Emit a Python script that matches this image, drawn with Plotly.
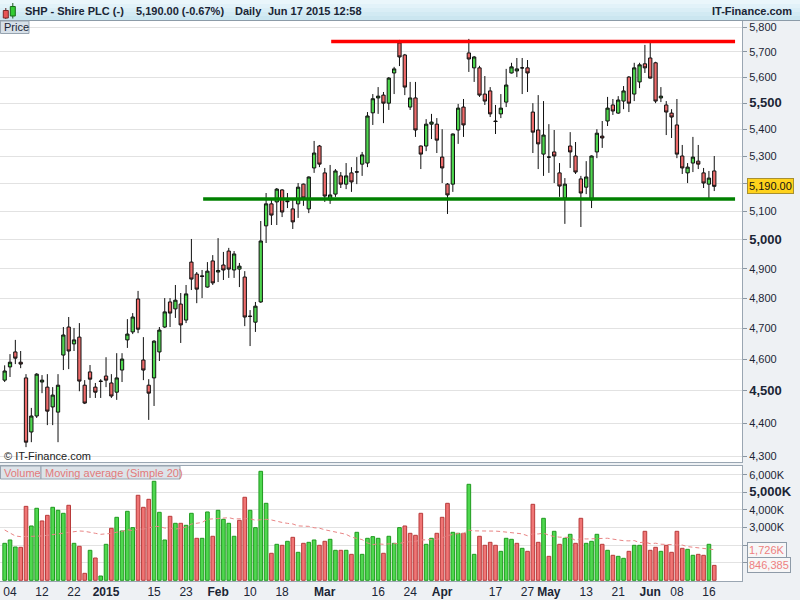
import math
import pandas as pd
import plotly.graph_objects as go

# ---------------- data ----------------
holidays = ["2014-12-25", "2014-12-26", "2015-01-01", "2015-04-03",
            "2015-04-06", "2015-05-04", "2015-05-25"]
dates = [d for d in pd.bdate_range("2014-12-03", "2015-06-17")
         if d.strftime("%Y-%m-%d") not in holidays]

opens = [4534, 4576, 4624, 4591, 4541, 4373, 4422, 4528, 4512, 4450,
         4434, 4614, 4705, 4650, 4672, 4518, 4560, 4512, 4531, 4547,
         4525, 4496, 4566, 4663, 4689, 4798, 4598, 4518, 4541, 4624,
         4705, 4788, 4765, 4781, 4728, 4923, 4882, 4876, 4838, 4927,
         4889, 4913, 4961, 4896, 4899, 4872, 4741, 4721, 4788, 5049,
         5127, 5134, 5177, 5138, 5109, 5127, 5198, 5109, 5257, 5338,
         5239, 5141, 5162, 5228, 5198, 5239, 5243, 5271, 5275, 5463,
         5520, 5531, 5500, 5617, 5736, 5688, 5485, 5520, 5338, 5338,
         5420, 5420, 5297, 5198, 5198, 5398, 5485, 5696, 5637, 5637,
         5535, 5547, 5432, 5459, 5504, 5617, 5625, 5637, 5637, 5466,
         5398, 5308, 5297, 5316, 5239, 5148, 5338, 5301, 5217, 5187,
         5141, 5316, 5375, 5432, 5493, 5462, 5508, 5601, 5535, 5582,
         5653, 5676, 5657, 5520, 5493, 5462, 5417, 5301, 5239, 5275,
         5282, 5239, 5198, 5246]
highs = [4581, 4617, 4663, 4627, 4553, 4447, 4556, 4550, 4553, 4512,
         4553, 4705, 4738, 4702, 4718, 4534, 4582, 4525, 4537, 4607,
         4553, 4620, 4620, 4731, 4751, 4825, 4672, 4537, 4662, 4705,
         4801, 4801, 4845, 4818, 4845, 5003, 4889, 4896, 4923, 4947,
         5006, 4958, 4972, 4961, 4920, 4892, 4761, 4788, 5066, 5166,
         5145, 5184, 5180, 5166, 5141, 5202, 5200, 5226, 5357, 5342,
         5257, 5268, 5253, 5242, 5275, 5260, 5297, 5316, 5466, 5535,
         5562, 5543, 5601, 5641, 5748, 5692, 5582, 5582, 5340, 5439,
         5459, 5443, 5401, 5202, 5385, 5497, 5516, 5752, 5684, 5645,
         5605, 5562, 5493, 5535, 5633, 5657, 5676, 5676, 5668, 5500,
         5531, 5508, 5420, 5398, 5275, 5220, 5390, 5353, 5228, 5282,
         5303, 5401, 5432, 5524, 5516, 5527, 5566, 5605, 5657, 5657,
         5728, 5736, 5661, 5562, 5508, 5477, 5516, 5342, 5275, 5372,
         5342, 5257, 5246, 5301]
lows = [4528, 4544, 4585, 4572, 4327, 4342, 4416, 4493, 4394, 4394,
        4342, 4566, 4569, 4627, 4499, 4459, 4478, 4478, 4478, 4512,
        4478, 4472, 4528, 4637, 4682, 4685, 4534, 4410, 4453, 4595,
        4702, 4705, 4735, 4653, 4718, 4828, 4784, 4801, 4836, 4845,
        4855, 4862, 4869, 4869, 4838, 4708, 4643, 4689, 4785, 4989,
        5052, 5052, 5080, 5112, 5038, 5077, 5120, 5094, 5239, 5260,
        5134, 5127, 5152, 5184, 5180, 5170, 5198, 5228, 5260, 5417,
        5459, 5424, 5474, 5535, 5644, 5531, 5474, 5372, 5253, 5319,
        5364, 5312, 5202, 5091, 5170, 5346, 5372, 5621, 5582, 5524,
        5493, 5447, 5383, 5443, 5485, 5615, 5601, 5535, 5543, 5312,
        5253, 5228, 5239, 5202, 5152, 5056, 5257, 5235, 5045, 5162,
        5112, 5293, 5331, 5413, 5455, 5459, 5477, 5466, 5508, 5558,
        5617, 5595, 5500, 5504, 5379, 5368, 5293, 5235, 5202, 5242,
        5253, 5184, 5148, 5173]
closes = [4563, 4591, 4604, 4585, 4342, 4422, 4553, 4534, 4437, 4487,
          4518, 4679, 4627, 4663, 4531, 4462, 4537, 4496, 4530, 4534,
          4484, 4541, 4601, 4682, 4738, 4698, 4566, 4493, 4659, 4695,
          4755, 4751, 4794, 4712, 4815, 4865, 4831, 4874, 4892, 4852,
          4894, 4896, 4899, 4951, 4909, 4738, 4740, 4774, 4996, 5127,
          5087, 5180, 5098, 5135, 5063, 5187, 5148, 5224, 5312, 5271,
          5155, 5159, 5246, 5198, 5228, 5206, 5242, 5305, 5451, 5517,
          5527, 5500, 5597, 5633, 5680, 5562, 5520, 5398, 5308, 5420,
          5428, 5360, 5257, 5159, 5383, 5481, 5417, 5672, 5680, 5531,
          5508, 5459, 5430, 5481, 5570, 5641, 5633, 5637, 5617, 5390,
          5346, 5379, 5297, 5301, 5191, 5198, 5316, 5242, 5166, 5224,
          5301, 5386, 5368, 5481, 5470, 5512, 5547, 5500, 5637, 5649,
          5637, 5597, 5508, 5527, 5466, 5447, 5308, 5257, 5260, 5297,
          5271, 5202, 5220, 5190]
volumes_k = [2100, 2290, 1892, 1873, 4200, 3085, 4090, 3370, 3690, 4146,
             3976, 3805, 4260, 2100, 1930, 396, 1703, 1267, 244, 2044,
             2953, 3578, 2801, 3919, 2991, 4828, 4146, 4600, 5623, 3862,
             2290, 3634, 3237, 3237, 3123, 3805, 2385, 2385, 3881, 2500,
             3976, 3464, 3237, 2500, 3407, 4715, 3976, 2991, 6190, 4373,
             1534, 2044, 1987, 2214, 2441, 1590, 2100, 2157, 2290, 1987,
             2214, 2328, 1703, 1703, 1703, 1475, 2726, 1475, 2385, 2479,
             2385, 1534, 2500, 2100, 2991, 3085, 2669, 2555, 3805, 2044,
             2385, 2669, 3578, 4373, 2726, 2669, 2669, 5452, 1475, 2500,
             1987, 2157, 1987, 1646, 2385, 2328, 2100, 1816, 1646, 4316,
             2157, 3521, 1362, 2782, 2044, 2385, 2612, 2100, 3521, 2100,
             2214, 2612, 2044, 1703, 1419, 1362, 1248, 1646, 1987, 1987,
             2782, 1703, 1873, 1646, 1987, 1590, 2782, 1816, 1759, 1419,
             1475, 1419, 2044, 846.385]
# 20-day moving average of volume for the first 19 sessions (earlier data not shown)
vol_ma_head_k = [2858, 2669, 2517, 2479, 2479, 2479, 2498, 2517, 2555, 2593,
                 2631, 2669, 2707, 2763, 2801, 2782, 2744, 2669, 2610]

resistance = 5742
support = 5144
resistance_from = 61.2
support_from = 37.2
lines_to = 136.9

tick_dates = ["2014-12-04", "2014-12-12", "2014-12-22", "2015-01-02", "2015-01-15",
              "2015-01-23", "2015-02-02", "2015-02-10", "2015-02-18", "2015-03-02",
              "2015-03-16", "2015-03-24", "2015-04-01", "2015-04-17", "2015-04-27",
              "2015-05-01", "2015-05-13", "2015-05-21", "2015-06-01", "2015-06-08",
              "2015-06-16"]
tick_labels = ["04", "12", "22", "2015", "15", "23", "Feb", "10", "18", "Mar",
               "16", "24", "Apr", "17", "27", "May", "13", "21", "Jun", "08", "16"]
bold_ticks = {"2015", "Feb", "Mar", "Apr", "May", "Jun"}

price_ticks = list(range(4300, 5801, 100))
major_price = {4500, 5000, 5500}
hidden_price = {5200}          # covered by the last-price box
vol_ticks = [1e6, 2e6, 3e6, 4e6, 5e6, 6e6]
vol_tick_text = ["", "", "3,000K", "4,000K", "5,000K", "6,000K"]

# ---------------- derived ----------------
n = len(dates)
x = list(range(n))
date_idx = {d.strftime("%Y-%m-%d"): i for i, d in enumerate(dates)}
volumes = [v * 1000 for v in volumes_k]
ma = [v * 1000 for v in vol_ma_head_k] + list(
    pd.Series(volumes).rolling(20).mean().iloc[19:])

GREEN_F, GREEN_L = "#4fd84f", "#1f9a1f"
RED_F, RED_L = "#f07575", "#b83a3a"
vcol, vline = [], []
for i in range(n):
    up = closes[i] >= opens[i] if i == 0 else closes[i] > closes[i - 1]
    vcol.append(GREEN_F if up else RED_F)
    vline.append(GREEN_L if up else RED_L)

FONT = "Liberation Sans, Arial, sans-serif"
TXT = "#1b2535"

fig = go.Figure()
fig.add_trace(go.Candlestick(
    x=x, open=opens, high=highs, low=lows, close=closes,
    increasing=dict(fillcolor="#4ed64e", line=dict(color="#101010", width=1)),
    decreasing=dict(fillcolor="#ee6b6b", line=dict(color="#101010", width=1)),
    whiskerwidth=0, xaxis="x", yaxis="y", hoverinfo="skip", showlegend=False))
fig.add_trace(go.Scatter(x=[resistance_from, lines_to], y=[resistance, resistance],
                         mode="lines", line=dict(color="#ff0000", width=3.5),
                         xaxis="x", yaxis="y", showlegend=False, hoverinfo="skip"))
fig.add_trace(go.Scatter(x=[support_from, lines_to], y=[support, support],
                         mode="lines", line=dict(color="#008000", width=3.5),
                         xaxis="x", yaxis="y", showlegend=False, hoverinfo="skip"))
fig.add_trace(go.Bar(x=x, y=volumes, marker=dict(color=vcol, line=dict(color=vline, width=1)),
                     xaxis="x2", yaxis="y2", showlegend=False, hoverinfo="skip"))
fig.add_trace(go.Scatter(x=x, y=ma, mode="lines",
                         line=dict(color="#e98585", width=1, dash="4px,3px"),
                         xaxis="x2", yaxis="y2", showlegend=False, hoverinfo="skip"))

# geometry helpers (paper coords) : plot area x 0..742 px, y 21..581 px
PW, T, B = 742.0, 21.0, 581.0
def px(xp): return xp / PW
def py(yp): return (B - yp) / (B - T)

xr = [-0.875, 138.2]
ticktext_x = [f"<b>{t}</b>" if t in bold_ticks else t for t in tick_labels]
price_text = []
for v in price_ticks:
    if v in hidden_price:
        price_text.append("")
    elif v in major_price:
        price_text.append(f"<b><span style='font-size:13px'>{v:,}</span></b>")
    else:
        price_text.append(f"{v:,}")
vol_text = [("<b><span style='font-size:13px'>" + t + "</span></b>") if t == "5,000K" else t
            for t in vol_tick_text]

axis_line = "#9aa6b2"
fig.update_layout(
    width=800, height=600,
    margin=dict(l=0, r=58, t=21, b=19),
    paper_bgcolor="#eef1f4", plot_bgcolor="white",
    font=dict(family=FONT, size=11, color=TXT),
    showlegend=False, bargap=0.32, boxgap=0.12, hovermode=False,
    xaxis=dict(domain=[0, 1], anchor="y", range=xr, showticklabels=False,
               showgrid=False, zeroline=False, showline=True, mirror=True,
               linecolor=axis_line, rangeslider=dict(visible=False), fixedrange=True),
    xaxis2=dict(domain=[0, 1], anchor="y2", range=xr, matches="x",
                tickmode="array", tickvals=[date_idx[d] for d in tick_dates],
                ticktext=ticktext_x, ticks="", showgrid=False, zeroline=False,
                showline=True, mirror=True, linecolor=axis_line,
                tickfont=dict(size=12, color=TXT, family=FONT)),
    yaxis=dict(domain=[py(462), 1], type="log",
               range=[math.log10(4282.4), math.log10(5824.3)],
               side="right", tickmode="array", tickvals=price_ticks, ticktext=price_text,
               ticks="outside", ticklen=4, tickcolor="#8a96a2",
               showgrid=True, gridcolor="#e2e2e2", zeroline=False,
               showline=True, mirror=True, linecolor=axis_line,
               tickfont=dict(size=11, color=TXT, family=FONT)),
    yaxis2=dict(domain=[0, py(465.5)], range=[-40000, 6520000],
                side="right", tickmode="array", tickvals=vol_ticks, ticktext=vol_text,
                ticks="outside", ticklen=4, tickcolor="#8a96a2",
                showgrid=True, gridcolor="#e2e2e2", zeroline=False,
                showline=True, mirror=True, linecolor=axis_line,
                tickfont=dict(size=11, color=TXT, family=FONT)),
)

shapes = []
# header gradient
hdr_cols = ["#eaf6fb", "#e2f2f9", "#daeef6", "#d2eaf3", "#cbe6f0"]
for k, c in enumerate(hdr_cols):
    shapes.append(dict(type="rect", xref="paper", yref="paper",
                       x0=px(0), x1=px(800), y0=py(4 * (k + 1)), y1=py(4 * k),
                       fillcolor=c, line=dict(width=0), layer="above"))
shapes.append(dict(type="line", xref="paper", yref="paper", x0=px(0), x1=px(800),
                   y0=py(20.5), y1=py(20.5), line=dict(color="#8c9ba8", width=1), layer="above"))
# small candle icon
shapes += [
    dict(type="line", xref="paper", yref="paper", x0=px(5.8), x1=px(5.8), y0=py(19), y1=py(8),
         line=dict(color="#5a2020", width=1), layer="above"),
    dict(type="rect", xref="paper", yref="paper", x0=px(3.3), x1=px(8.3), y0=py(18), y1=py(10.5),
         fillcolor="#e85555", line=dict(color="#7a2a2a", width=1), layer="above"),
    dict(type="line", xref="paper", yref="paper", x0=px(12.8), x1=px(12.8), y0=py(18.5), y1=py(3),
         line=dict(color="#1a5a1a", width=1), layer="above"),
    dict(type="rect", xref="paper", yref="paper", x0=px(10.3), x1=px(15.3), y0=py(16), y1=py(6.5),
         fillcolor="#33cc33", line=dict(color="#1a6a1a", width=1), layer="above"),
]
# label boxes
def box(x0, x1, y0, y1, fill):
    return dict(type="rect", xref="paper", yref="paper", x0=px(x0), x1=px(x1),
                y0=py(y1), y1=py(y0), fillcolor=fill, line=dict(color="#96a3af", width=1),
                layer="above")
shapes += [box(0.5, 29, 21, 33.5, "#d7e0e8"),
           box(0.5, 41, 466, 479, "#dde3e9"),
           box(41, 180, 466, 479, "#dde3e9")]
fig.update_layout(shapes=shapes)

ann = []
def text(xp, yp, s, size=11, color=TXT, anchor="left", bold=False):
    ann.append(dict(xref="paper", yref="paper", x=px(xp), y=py(yp), text=(f"<b>{s}</b>" if bold else s),
                    showarrow=False, xanchor=anchor, yanchor="middle",
                    font=dict(family=FONT, size=size, color=color)))
text(23, 11, "SHP - Shire PLC (-)", bold=True)
text(134, 11, "5,190.00 (-0.67%)", bold=True)
text(233, 11, "Daily", bold=True)
text(266, 11, "Jun 17 2015 12:58", bold=True)
text(794, 11, "IT-Finance.com", anchor="right", bold=True)
text(2, 27.5, "Price", size=11)
text(2, 456, "© IT-Finance.com", size=11, color="#222222")
text(2, 472.5, "Volume", size=11, color="#e27a7a")
text(43, 472.5, "Moving average (Simple 20)", size=11, color="#e27a7a")
# last value boxes on the right axes
ann.append(dict(xref="paper", yref="y", x=1, xshift=5, y=math.log10(closes[-1]),
                text=f"{closes[-1]:,.2f}", showarrow=False, xanchor="left", yanchor="middle",
                bgcolor="#ffd21c", bordercolor="#a89030", borderwidth=1, borderpad=1,
                font=dict(family=FONT, size=11, color="#111111")))
ann.append(dict(xref="paper", yref="y2", x=1, xshift=5, y=1726000,
                text="1,726K", showarrow=False, xanchor="left", yanchor="middle",
                bgcolor="#f7f7f7", bordercolor="#8e9ba8", borderwidth=1, borderpad=1,
                font=dict(family=FONT, size=11, color="#ee7f7f")))
ann.append(dict(xref="paper", yref="y2", x=1, xshift=5, y=volumes[-1],
                text=f"{volumes[-1]:,.0f}", showarrow=False, xanchor="left", yanchor="middle",
                bgcolor="#f7f7f7", bordercolor="#8e9ba8", borderwidth=1, borderpad=1,
                font=dict(family=FONT, size=11, color="#ee7f7f")))
fig.update_layout(annotations=ann)

fig.write_html("out.html", config={"displayModeBar": False},
               post_script="document.body.style.margin='0px';document.body.style.overflow='hidden';")
